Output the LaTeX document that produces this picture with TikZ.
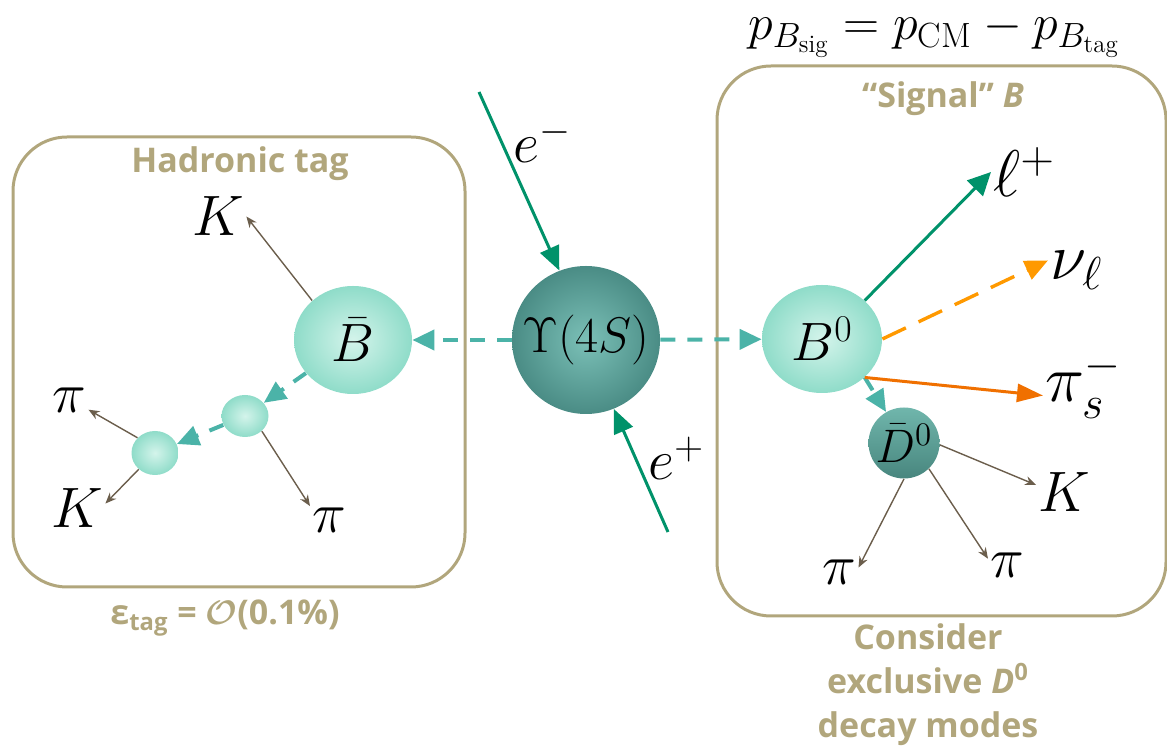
\RequirePackage{fix-cm}
\documentclass[tikz,border=0pt]{standalone}
\usepackage{fontspec}
\setsansfont{Open Sans}
\usetikzlibrary{arrows.meta,shapes.geometric}
\definecolor{khaki}{RGB}{177,166,124}
\definecolor{beamgreen}{RGB}{0,146,106}
\definecolor{flightteal}{RGB}{75,179,168}
\definecolor{nuorange}{RGB}{255,153,0}
\definecolor{piorange}{RGB}{240,112,0}
\definecolor{decay}{RGB}{107,94,76}
\definecolor{upsin}{RGB}{123,192,183}
\definecolor{upsout}{RGB}{74,140,133}
\definecolor{bin}{RGB}{212,244,235}
\definecolor{bout}{RGB}{143,220,201}
\definecolor{dtop}{RGB}{112,182,172}
\definecolor{dbot}{RGB}{72,134,126}

\begin{document}
\begin{tikzpicture}[x=0.5pt,y=-0.5pt,
  box/.style={draw=khaki,line width=1.5pt,rounded corners=27pt,inner sep=0pt},
  boxtitle/.style={text=khaki,font=\sffamily\bfseries\fontsize{17}{22}\selectfont,anchor=base},
  lightball/.style={ellipse,inner sep=0pt,shade,inner color=bin,outer color=bout},
  lab/.style={inner sep=1pt,anchor=base west,font=\fontsize{28.5}{30}\selectfont},
  biglab/.style={inner sep=1pt,anchor=base west,font=\fontsize{33}{35}\selectfont},
  beam/.style={beamgreen,line width=1.5pt,-{Triangle[length=12pt,width=10pt]}},
  flight/.style={flightteal,line width=2pt,dash pattern=on 7.5pt off 6pt,-{Triangle[length=11pt,width=10pt]}},
  prong/.style={decay,line width=0.7pt,-{Stealth[length=5.5pt,width=4.5pt]}}]
 \useasboundingbox (0,0) rectangle (1167,747);
 % boxes and their texts
 \node[box,minimum width=226pt,minimum height=225pt] (tagbox) at (239,362) {};
 \node[box,minimum width=224.5pt,minimum height=275pt] (sigbox) at (941.5,341) {};
 \node[boxtitle] (tagtitle) at (240,173) {Hadronic tag};
 \node[boxtitle] (sigtitle) at (943,108) {“Signal” \textit{B}};
 \node[boxtitle] (eff) at (225,625) {ε\textsubscript{tag} = {\boldmath$\mathcal{O}$}(0.1\%)};
 \node[boxtitle,align=center,anchor=north,inner sep=0pt] (modes) at (928,623) {Consider\\exclusive \textit{D}\textsuperscript{0}\\decay modes};
 \node[inner sep=0pt,font=\fontsize{25}{27}\selectfont] (mom) at (934,34) {$p_{B_{\mathrm{sig}}} = p_{\mathrm{CM}} - p_{B_{\mathrm{tag}}}$};
 % particles
 \node[circle,minimum size=74pt,inner sep=0pt,shade,inner color=upsin,outer color=upsout,font=\fontsize{25}{27}\selectfont] (ups) at (586,340) {$\Upsilon(4S)$};
 \node[lightball,minimum width=59pt,minimum height=54pt,font=\fontsize{27}{29}\selectfont] (Bbar) at (353,340) {$\bar B$};
 \node[lightball,minimum width=23.5pt,minimum height=21pt] (s1) at (245,416) {};
 \node[lightball,minimum width=23.5pt,minimum height=22pt] (s2) at (155,453) {};
 \node[lightball,minimum width=60pt,minimum height=54pt,font=\fontsize{27}{29}\selectfont] (B0) at (822,339) {$B^0$};
 \node[circle,minimum size=35.5pt,inner sep=-2pt,top color=dtop,bottom color=dbot,font=\fontsize{23.5}{25}\selectfont] (D0) at (904,443) {$\bar D^0$};
 % labels
 \node[lab] (em) at (511,163) {$e^-$};
 \node[lab] (ep) at (646,480) {$e^+$};
 \node[lab] (Kt) at (190,236) {$K$};
 \node[lab] (piL) at (50,413) {$\pi$};
 \node[lab] (Kb) at (49,528) {$K$};
 \node[lab] (pib) at (310,533) {$\pi$};
 \node[biglab] (lp) at (991,197) {$\ell^+$};
 \node[biglab] (nu) at (1048,280) {$\nu_\ell$};
 \node[biglab] (pis) at (1043,402) {$\pi_s^-$};
 \node[lab] (Kr) at (1036,512) {$K$};
 \node[lab] (piA) at (820,585) {$\pi$};
 \node[lab] (piB) at (988,578) {$\pi$};
 % beams
 \coordinate (eminus) at (479,92);
 \coordinate (eplus) at (668,532);
 \draw[beam] (eminus) -- (ups.111);
 \draw[beam] (eplus) -- (ups.-68);
 % B flights
 \draw[flight] (ups) -- (Bbar);
 \draw[flight] (ups) -- (B0);
 \draw[flight] (Bbar) -- (s1);
 \draw[flight] (s1) -- (s2);
 \draw[flight] (B0.-42) -- (D0.120);
 % tag side decays
 \draw[prong] (Bbar.136) -- (Kt.east);
 \draw[prong] (s1.-42) -- (pib.north west);
 \draw[prong] (s2.139) -- (piL.-25);
 \draw[prong] (s2.-135) -- (Kb.10);
 % signal side decays
 \draw[beam,-{Triangle[length=11.5pt,width=11pt]}] (B0.42) -- (lp.west);
 \draw[nuorange,line width=1.7pt,dash pattern=on 13pt off 7pt,-{Triangle[length=11.5pt,width=10pt]}] (B0.0) -- (nu.160);
 \draw[piorange,line width=1.5pt,-{Triangle[length=13pt,width=9pt]}] (B0.-42) -- (pis.195);
 \draw[prong] (D0.-3) -- (Kr.165);
 \draw[prong] (D0.-90) -- (piA.15);
 \draw[prong] (D0.-46) -- (piB.160);
\end{tikzpicture}
\end{document}
